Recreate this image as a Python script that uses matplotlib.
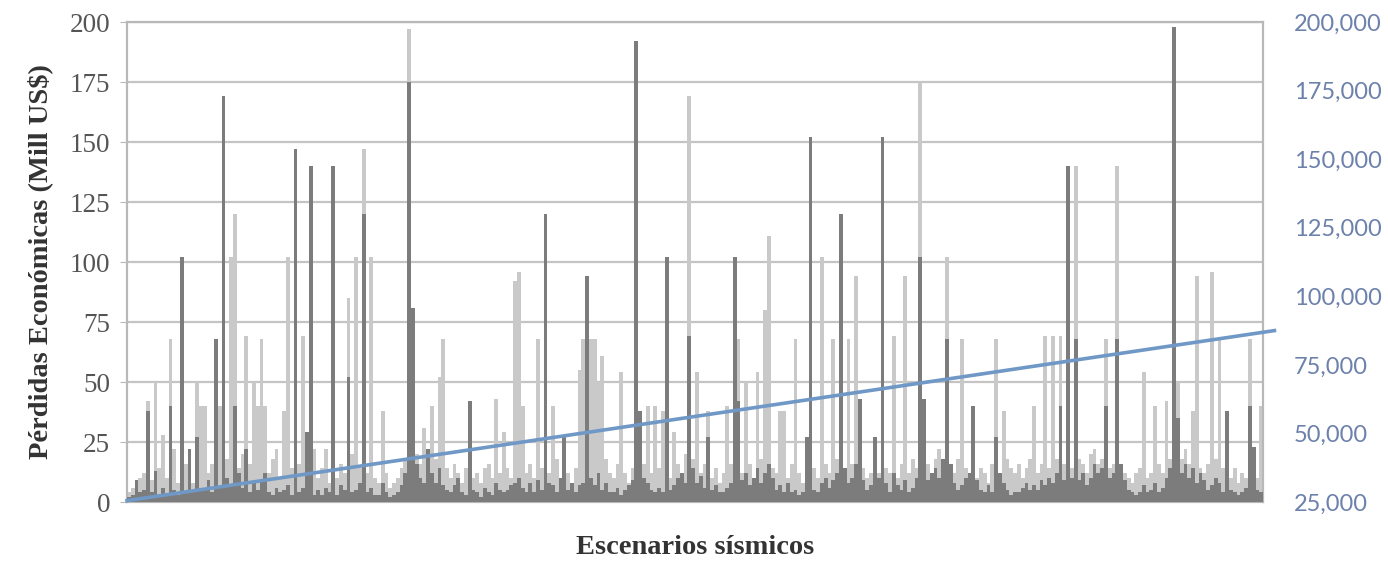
import numpy as np
import matplotlib

matplotlib.use('Agg')
import matplotlib.pyplot as plt
from matplotlib.ticker import FuncFormatter

# Pérdidas por escenario (Mill US$), serie clara y serie oscura, 300 escenarios
perdidas_claro = [
    4, 6, 8, 10, 12, 42, 9, 50, 14, 28, 10, 68, 22, 8, 12, 16, 10, 8, 50, 40,
    40, 12, 16, 14, 40, 10, 18, 102, 120, 14, 20, 69, 16, 50, 40, 68, 40, 12, 18, 22,
    10, 38, 102, 14, 12, 16, 69, 18, 12, 22, 10, 14, 22, 8, 12, 10, 16, 12, 85, 20,
    102, 14, 147, 12, 102, 10, 8, 38, 12, 6, 8, 10, 14, 18, 197, 22, 20, 16, 31, 12,
    40, 18, 52, 68, 14, 10, 16, 12, 8, 14, 18, 10, 12, 8, 14, 16, 10, 43, 12, 29,
    14, 10, 92, 96, 40, 12, 16, 10, 68, 14, 40, 12, 40, 18, 10, 16, 12, 8, 14, 55,
    68, 14, 68, 68, 50, 61, 18, 12, 10, 16, 54, 12, 8, 14, 20, 18, 16, 40, 12, 40,
    14, 38, 12, 10, 29, 16, 12, 20, 169, 18, 54, 12, 16, 38, 10, 14, 8, 12, 40, 16,
    14, 68, 12, 50, 16, 10, 54, 18, 80, 111, 14, 12, 38, 38, 10, 16, 68, 12, 8, 14,
    12, 14, 10, 102, 16, 12, 68, 18, 14, 12, 68, 16, 94, 20, 14, 10, 12, 16, 12, 18,
    14, 12, 69, 10, 16, 94, 12, 18, 14, 175, 20, 16, 12, 18, 22, 16, 102, 14, 12, 18,
    68, 14, 12, 16, 10, 14, 12, 8, 16, 68, 12, 38, 18, 14, 12, 16, 10, 14, 18, 40,
    12, 16, 69, 14, 69, 18, 69, 16, 20, 14, 140, 18, 16, 12, 20, 22, 16, 18, 68, 14,
    16, 140, 14, 12, 10, 8, 12, 14, 54, 10, 12, 40, 16, 12, 42, 18, 20, 50, 18, 22,
    16, 38, 94, 14, 12, 16, 96, 18, 68, 14, 12, 10, 14, 8, 12, 10, 68, 14, 10, 40,
]
perdidas_oscuro = [
    2, 3, 9, 4, 5, 38, 4, 13, 3, 6, 3, 40, 5, 3, 102, 4, 22, 5, 27, 6,
    5, 9, 4, 68, 6, 169, 10, 7, 40, 12, 6, 22, 4, 8, 5, 9, 12, 4, 3, 6,
    4, 5, 7, 3, 147, 4, 6, 29, 140, 3, 5, 3, 6, 4, 140, 3, 7, 5, 52, 4,
    5, 8, 120, 4, 6, 3, 3, 8, 4, 2, 3, 4, 7, 12, 175, 81, 16, 10, 8, 22,
    12, 8, 14, 7, 5, 4, 7, 10, 4, 3, 42, 5, 4, 2, 6, 4, 3, 8, 5, 4,
    5, 7, 8, 10, 6, 4, 8, 4, 9, 5, 120, 8, 7, 4, 10, 27, 5, 8, 4, 7,
    8, 94, 10, 7, 12, 5, 8, 4, 4, 6, 3, 5, 7, 9, 192, 38, 10, 8, 5, 4,
    6, 4, 102, 5, 7, 10, 12, 8, 69, 14, 8, 11, 6, 27, 5, 7, 4, 4, 6, 8,
    102, 42, 9, 12, 7, 10, 14, 8, 12, 16, 10, 5, 7, 4, 8, 4, 5, 3, 4, 27,
    152, 5, 4, 8, 10, 6, 9, 12, 120, 14, 8, 10, 16, 43, 9, 5, 7, 27, 10, 152,
    8, 4, 12, 7, 5, 9, 4, 6, 10, 102, 43, 9, 12, 14, 10, 18, 68, 16, 8, 5,
    7, 10, 12, 40, 9, 5, 4, 7, 4, 27, 12, 8, 5, 3, 4, 4, 6, 8, 5, 7,
    5, 9, 7, 10, 8, 12, 40, 9, 140, 10, 68, 9, 12, 7, 10, 16, 12, 14, 40, 10,
    12, 68, 16, 9, 5, 4, 3, 4, 7, 4, 5, 8, 4, 6, 10, 14, 198, 35, 12, 16,
    10, 14, 8, 12, 9, 5, 7, 10, 8, 4, 38, 5, 4, 3, 4, 6, 40, 23, 5, 4,
]
# tendencia (eje secundario): valor inicial y final
tendencia = [25500, 87500]

left_ticks = [0, 25, 50, 75, 100, 125, 150, 175, 200]
right_ticks = [25000, 50000, 75000, 100000, 125000, 150000, 175000, 200000]

serif = 'Liberation Serif'
n = len(perdidas_claro)
x = np.arange(n)

fig = plt.figure(figsize=(13.88, 5.65), dpi=100)
ax = fig.add_axes((0.0915, 0.1115, 0.8185, 0.8495))

ax.bar(x, perdidas_claro, width=1.0, color='#c9c9c9', linewidth=0, zorder=2)
ax.bar(x, perdidas_oscuro, width=1.0, color='#7c7c7c', linewidth=0, zorder=3)

ax.set_xlim(-0.5, n - 0.5)
ax.set_ylim(0, 200)
ax.set_yticks(left_ticks)
ax.set_xticks([])
ax.grid(axis='y', color='#c4c4c4', linewidth=1.6, zorder=0)
ax.set_axisbelow(True)
for s in ax.spines.values():
    s.set_color('#b8b8b8')
    s.set_linewidth(1.6)
ax.tick_params(axis='y', length=5, color='#b8b8b8', labelsize=19.5, labelcolor='#555555', pad=7)
for lab in ax.get_yticklabels():
    lab.set_family(serif)

ax.set_ylabel('Pérdidas Económicas (Mill US\\$)', family=serif, fontweight='bold',
              fontsize=20.5, color='#333333', labelpad=12)
ax.set_xlabel('Escenarios sísmicos', family=serif, fontweight='bold',
              fontsize=20.5, color='#333333', labelpad=24)

ax2 = ax.twinx()
ax2.set_ylim(25000, 200000)
ax2.set_yticks(right_ticks)
ax2.yaxis.set_major_formatter(FuncFormatter(lambda v, p: '{:,.0f}'.format(v)))
ax2.tick_params(axis='y', length=0, labelsize=17, labelcolor='#6c81ab', pad=22)
for lab in ax2.get_yticklabels():
    lab.set_family('Lato')
for s in ax2.spines.values():
    s.set_visible(False)

x0, x1 = ax.get_xlim()
ax2.plot([x0, x1 + 3], tendencia, color='#6f98c6', linewidth=2.6, clip_on=False, zorder=4)

plt.savefig('out.png', dpi=100)
